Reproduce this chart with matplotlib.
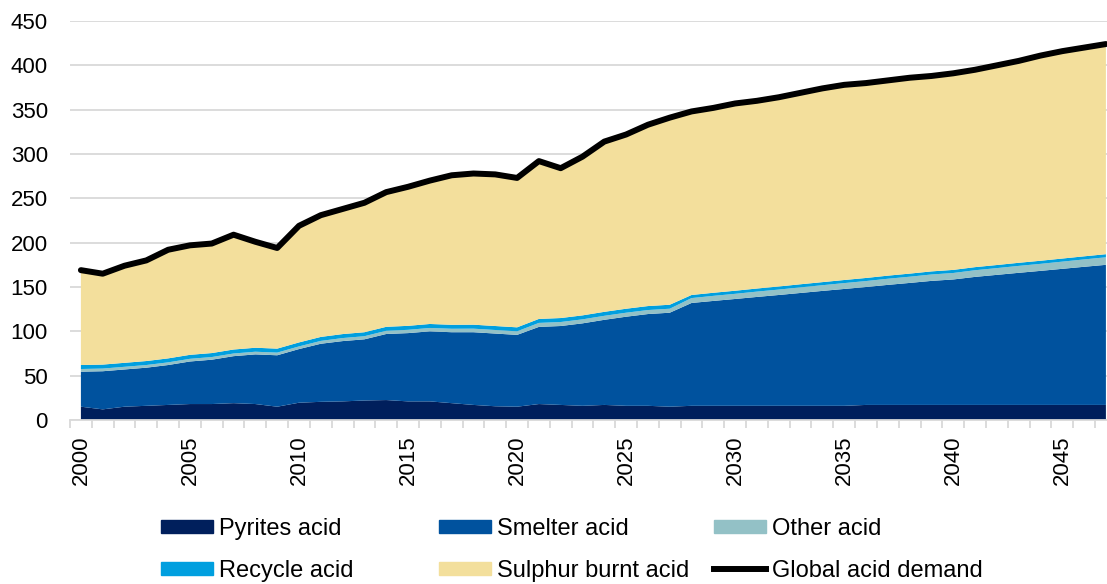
import numpy as np
import matplotlib.pyplot as plt
from matplotlib.patches import Patch
from matplotlib.lines import Line2D

plt.rcParams['font.family'] = ['Liberation Sans', 'DejaVu Sans']

years = list(range(2000, 2048))

pyrites = [15, 12, 15, 16, 17, 18, 18, 19, 18, 15,
           19.5, 20.5, 21, 22, 22.5, 21, 21, 19, 17, 15.5,
           15, 18, 17, 16, 17, 16, 16, 15, 16, 16,
           16, 16, 16, 16, 16, 16, 17, 17, 17, 17,
           17, 17, 17, 17, 17, 17, 17, 17]

smelter = [39.5, 43, 42, 43, 45, 48, 50, 53, 56, 58,
           60.5, 65.5, 68, 69, 74.5, 77, 79, 80, 82, 82,
           81, 87, 89, 93, 96, 100.5, 103.5, 106, 116, 118.3,
           120.5, 122.8, 125, 127.3, 129.6, 131.8, 133, 135.4, 137.6, 139.9,
           141.5, 144.4, 146.7, 149, 151.2, 153.5, 155.8, 158]

other = [3, 3, 3, 3, 3, 3, 3, 3, 3, 3,
         3, 3.2, 3.4, 3.5, 3.6, 3.7, 3.8, 3.9, 4, 4,
         4, 4.5, 4.5, 4.5, 4.5, 4.5, 4.5, 4.5, 5.5, 5.7,
         5.8, 6, 6.1, 6.3, 6.4, 6.6, 6.7, 6.9, 7, 7.2,
         7.3, 7.5, 7.6, 7.8, 7.9, 8.1, 8.3, 8.5]

recycle = [4.5, 4.5, 4.5, 4.5, 4.5, 4.5, 4.5, 4.5, 4.5, 4.5,
           4.5, 4.5, 4.5, 4.5, 4.5, 4.5, 4.5, 4.5, 4.5, 4.5,
           4.5, 4.5, 4.5, 4.5, 4.5, 4.5, 4.5, 4.5, 3.5, 3.5,
           3.5, 3.5, 3.5, 3.5, 3.5, 3.5, 3.5, 3.5, 3.5, 3.5,
           3.5, 3.5, 3.5, 3.5, 3.5, 3.5, 3.5, 3.5]

demand = [169, 165, 174, 180, 192, 197, 199, 209, 201, 194,
          219, 231, 238, 245, 257, 263, 270, 276, 278, 277,
          273, 292, 284, 297, 314, 322, 333, 341, 348, 352,
          357, 360, 364, 369, 374, 378, 380, 383, 386, 388,
          391, 395, 400, 405, 411, 416, 420, 424]

# sulphur burnt acid fills the gap up to total demand
sulphur = [d - p - s - o - r for d, p, s, o, r in
           zip(demand, pyrites, smelter, other, recycle)]

labels = ['Pyrites acid', 'Smelter acid', 'Other acid',
          'Recycle acid', 'Sulphur burnt acid', 'Global acid demand']
colors = ['#001F5C', '#00529E', '#93C1C6', '#009FDF', '#F3DF9C']

fig = plt.figure(figsize=(11.07, 5.84), dpi=100)
ax = fig.add_axes([70 / 1107, 164 / 584, 1037 / 1107, 399 / 584])

ax.stackplot(years, pyrites, smelter, other, recycle, sulphur,
             colors=colors, linewidth=0, zorder=2)
ax.plot(years, demand, color='black', lw=4.3, solid_capstyle='round',
        solid_joinstyle='round', zorder=3)

ax.set_xlim(1999.5, 2047.05)
ax.set_ylim(0, 450)
ax.set_yticks(range(0, 451, 50))
ax.yaxis.grid(True, color='#D9D9D9', lw=1.3, zorder=0)
ax.set_axisbelow(True)

ax.set_xticks(range(2000, 2046, 5))
ax.set_xticks(np.arange(1999.5, 2047.5, 1), minor=True)
ax.tick_params(axis='x', which='major', length=0, pad=11, labelsize=16,
               labelrotation=90)
ax.tick_params(axis='x', which='minor', length=6, color='#D9D9D9', width=1.3)
ax.tick_params(axis='y', length=0, pad=16, labelsize=16)

for side in ['top', 'right', 'left']:
    ax.spines[side].set_visible(False)
ax.spines['bottom'].set_color('#D9D9D9')
ax.spines['bottom'].set_linewidth(1.3)

handles = [Patch(color=c) for c in colors]
handles.append(Line2D([], [], color='black', lw=4.3))

# legend laid out as three fixed columns of two rows
col_x = [161, 439, 714]
for i, x in enumerate(col_x):
    hs = [handles[i], handles[i + 3]]
    ls = [labels[i], labels[i + 3]]
    fig.legend(hs, ls, loc='upper left',
               bbox_to_anchor=(x / 1107, 1 - 518 / 584),
               frameon=False, fontsize=17, handlelength=2.2,
               handleheight=0.51, handletextpad=0.25, labelspacing=0.84,
               borderpad=0, borderaxespad=0)

fig.savefig('out.png', dpi=100)
